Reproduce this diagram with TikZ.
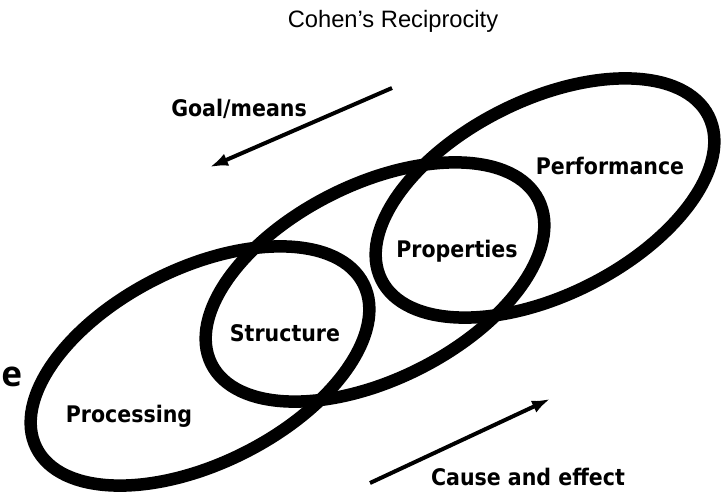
\documentclass[tikz,border=0pt]{standalone}
\usepackage{fontspec}
\setmainfont{Liberation Sans}
\newfontfamily\labelfont{DejaVu Sans Condensed}[BoldFont={DejaVu Sans Condensed Bold}]
\newfontfamily\cutfont{Open Sans}
\usetikzlibrary{arrows.meta, positioning, shapes.geometric}

\begin{document}
\begin{tikzpicture}[x=0.02cm, y=-0.02cm, >={Latex[length=0.36cm,width=0.26cm]},
	ring/.style={shape=ellipse, draw, line width=0.25cm, inner sep=0pt, minimum width=7.32cm, minimum height=3.9cm, rotate=26.6},
	lbl/.style={font=\labelfont\bfseries\fontsize{13}{15}\selectfont, anchor=base},
	flow/.style={->, line width=0.08cm}]
	\useasboundingbox (0,0) rectangle (727,496);
	\node[anchor=base, font=\fontsize{13.5}{16}\selectfont] (title) at (393,28) {Cohen's Reciprocity};
	
	\node[ring] (proc) at (200,366) {};
	\node[ring] (mid) at (375,282) {};
	\node[ring] (perf) at (545,198) {};
	
	\node[lbl] (processing) at (129,423) {Processing};
	\node[lbl] (structure) at (285,342) {Structure};
	\node[lbl] (properties) at (457,258) {Properties};
	\node[lbl] (performance) at (610,175) {Performance};
	
	\coordinate (gm tail) at (392,88);
	\coordinate (gm head) at (210,167);
	\draw[flow] (gm tail) -- (gm head);
	\node[lbl] (goal) at (239,117) {Goal/means};
	
	\coordinate (ce tail) at (370,483);
	\coordinate (ce head) at (550,399);
	\draw[flow] (ce tail) -- (ce head);
	\node[lbl] (cause) at (528,485) {Cause and effect};
	
	\node[anchor=base west, inner sep=0pt, font=\cutfont\bfseries\fontsize{20}{24}\selectfont] (cut) at (1,387) {e};
\end{tikzpicture}
\end{document}
